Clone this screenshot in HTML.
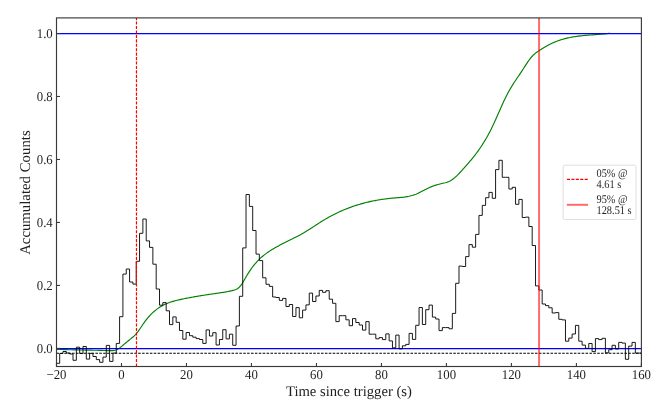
<!DOCTYPE html>
<html><head><meta charset="utf-8"><style>
html,body{margin:0;padding:0;background:#fff;}
svg{display:block;will-change:transform;}
text{font-family:"Liberation Serif",serif;fill:#1e1e1e;text-rendering:geometricPrecision;}
</style></head><body>
<svg width="663" height="407" viewBox="0 0 663 407">
<defs><clipPath id="ax"><rect x="56.5" y="17.9" width="584.9" height="348.6"/></clipPath></defs>
<rect x="0" y="0" width="663" height="407" fill="#fff"/>
<g clip-path="url(#ax)">
<path d="M56.0,349.30 L57.0,349.34 L58.0,349.38 L59.0,349.42 L60.0,349.46 L61.0,349.49 L62.0,349.53 L63.0,349.56 L64.0,349.59 L65.0,349.62 L66.0,349.65 L67.0,349.68 L68.0,349.71 L69.0,349.73 L70.0,349.76 L71.0,349.78 L72.0,349.80 L73.0,349.83 L74.0,349.85 L75.0,349.87 L76.0,349.89 L77.0,349.91 L78.0,349.93 L79.0,349.95 L80.0,349.97 L81.0,349.99 L82.0,350.01 L83.0,350.02 L84.0,350.04 L85.0,350.06 L86.0,350.08 L87.0,350.10 L88.0,350.11 L89.0,350.13 L90.0,350.15 L91.0,350.17 L92.0,350.19 L93.0,350.21 L94.0,350.23 L95.0,350.25 L96.0,350.27 L97.0,350.30 L98.0,350.32 L99.0,350.34 L100.0,350.37 L101.0,350.39 L102.0,350.42 L103.0,350.45 L104.0,350.48 L105.0,350.51 L106.0,350.54 L107.0,350.57 L108.0,350.61 L109.0,350.64 L110.0,350.68 L111.0,350.69 L112.0,350.68 L113.0,350.62 L114.0,350.50 L115.0,350.30 L116.0,350.01 L117.0,349.62 L118.0,349.10 L119.0,348.46 L120.0,347.72 L121.0,346.91 L122.0,346.07 L123.0,345.23 L124.0,344.38 L125.0,343.53 L126.0,342.69 L127.0,341.85 L128.0,341.01 L129.0,340.19 L130.0,339.38 L131.0,338.58 L132.0,337.79 L133.0,336.98 L134.0,336.12 L135.0,335.17 L136.0,334.10 L137.0,332.90 L138.0,331.59 L139.0,330.19 L140.0,328.73 L141.0,327.23 L142.0,325.73 L143.0,324.24 L144.0,322.81 L145.0,321.43 L146.0,320.11 L147.0,318.85 L148.0,317.65 L149.0,316.50 L150.0,315.40 L151.0,314.36 L152.0,313.37 L153.0,312.43 L154.0,311.53 L155.0,310.68 L156.0,309.87 L157.0,309.11 L158.0,308.39 L159.0,307.70 L160.0,307.06 L161.0,306.45 L162.0,305.87 L163.0,305.33 L164.0,304.82 L165.0,304.33 L166.0,303.88 L167.0,303.45 L168.0,303.05 L169.0,302.67 L170.0,302.32 L171.0,301.98 L172.0,301.66 L173.0,301.36 L174.0,301.08 L175.0,300.81 L176.0,300.55 L177.0,300.30 L178.0,300.06 L179.0,299.83 L180.0,299.60 L181.0,299.38 L182.0,299.17 L183.0,298.95 L184.0,298.75 L185.0,298.54 L186.0,298.34 L187.0,298.14 L188.0,297.95 L189.0,297.75 L190.0,297.57 L191.0,297.38 L192.0,297.20 L193.0,297.02 L194.0,296.84 L195.0,296.67 L196.0,296.50 L197.0,296.33 L198.0,296.16 L199.0,295.99 L200.0,295.83 L201.0,295.67 L202.0,295.51 L203.0,295.35 L204.0,295.20 L205.0,295.04 L206.0,294.89 L207.0,294.74 L208.0,294.59 L209.0,294.44 L210.0,294.29 L211.0,294.14 L212.0,294.00 L213.0,293.85 L214.0,293.71 L215.0,293.56 L216.0,293.42 L217.0,293.27 L218.0,293.13 L219.0,292.98 L220.0,292.84 L221.0,292.69 L222.0,292.55 L223.0,292.40 L224.0,292.24 L225.0,292.08 L226.0,291.91 L227.0,291.73 L228.0,291.55 L229.0,291.35 L230.0,291.13 L231.0,290.90 L232.0,290.66 L233.0,290.39 L234.0,290.11 L235.0,289.80 L236.0,289.43 L237.0,288.94 L238.0,288.30 L239.0,287.46 L240.0,286.42 L241.0,285.18 L242.0,283.75 L243.0,282.17 L244.0,280.48 L245.0,278.74 L246.0,277.00 L247.0,275.29 L248.0,273.65 L249.0,272.07 L250.0,270.56 L251.0,269.11 L252.0,267.72 L253.0,266.40 L254.0,265.13 L255.0,263.92 L256.0,262.76 L257.0,261.65 L258.0,260.59 L259.0,259.58 L260.0,258.61 L261.0,257.69 L262.0,256.80 L263.0,255.95 L264.0,255.14 L265.0,254.35 L266.0,253.60 L267.0,252.88 L268.0,252.18 L269.0,251.51 L270.0,250.86 L271.0,250.23 L272.0,249.61 L273.0,249.01 L274.0,248.42 L275.0,247.84 L276.0,247.28 L277.0,246.72 L278.0,246.18 L279.0,245.64 L280.0,245.11 L281.0,244.59 L282.0,244.08 L283.0,243.57 L284.0,243.06 L285.0,242.56 L286.0,242.06 L287.0,241.57 L288.0,241.07 L289.0,240.58 L290.0,240.08 L291.0,239.59 L292.0,239.09 L293.0,238.59 L294.0,238.08 L295.0,237.58 L296.0,237.06 L297.0,236.54 L298.0,236.02 L299.0,235.48 L300.0,234.94 L301.0,234.39 L302.0,233.83 L303.0,233.25 L304.0,232.67 L305.0,232.07 L306.0,231.47 L307.0,230.85 L308.0,230.23 L309.0,229.59 L310.0,228.96 L311.0,228.31 L312.0,227.67 L313.0,227.02 L314.0,226.37 L315.0,225.72 L316.0,225.06 L317.0,224.41 L318.0,223.77 L319.0,223.12 L320.0,222.48 L321.0,221.85 L322.0,221.22 L323.0,220.60 L324.0,219.98 L325.0,219.38 L326.0,218.79 L327.0,218.21 L328.0,217.64 L329.0,217.08 L330.0,216.53 L331.0,215.99 L332.0,215.46 L333.0,214.94 L334.0,214.43 L335.0,213.93 L336.0,213.44 L337.0,212.96 L338.0,212.48 L339.0,212.02 L340.0,211.57 L341.0,211.12 L342.0,210.68 L343.0,210.25 L344.0,209.83 L345.0,209.42 L346.0,209.01 L347.0,208.62 L348.0,208.23 L349.0,207.85 L350.0,207.48 L351.0,207.11 L352.0,206.75 L353.0,206.41 L354.0,206.07 L355.0,205.73 L356.0,205.41 L357.0,205.09 L358.0,204.78 L359.0,204.48 L360.0,204.18 L361.0,203.89 L362.0,203.61 L363.0,203.34 L364.0,203.07 L365.0,202.81 L366.0,202.56 L367.0,202.31 L368.0,202.07 L369.0,201.84 L370.0,201.61 L371.0,201.39 L372.0,201.18 L373.0,200.97 L374.0,200.77 L375.0,200.58 L376.0,200.39 L377.0,200.21 L378.0,200.03 L379.0,199.86 L380.0,199.70 L381.0,199.54 L382.0,199.39 L383.0,199.25 L384.0,199.11 L385.0,198.97 L386.0,198.85 L387.0,198.72 L388.0,198.60 L389.0,198.49 L390.0,198.39 L391.0,198.28 L392.0,198.19 L393.0,198.10 L394.0,198.01 L395.0,197.93 L396.0,197.85 L397.0,197.77 L398.0,197.69 L399.0,197.60 L400.0,197.52 L401.0,197.42 L402.0,197.32 L403.0,197.21 L404.0,197.09 L405.0,196.96 L406.0,196.81 L407.0,196.65 L408.0,196.47 L409.0,196.27 L410.0,196.04 L411.0,195.80 L412.0,195.54 L413.0,195.24 L414.0,194.92 L415.0,194.57 L416.0,194.19 L417.0,193.78 L418.0,193.34 L419.0,192.86 L420.0,192.36 L421.0,191.84 L422.0,191.31 L423.0,190.77 L424.0,190.24 L425.0,189.71 L426.0,189.19 L427.0,188.68 L428.0,188.20 L429.0,187.74 L430.0,187.31 L431.0,186.89 L432.0,186.49 L433.0,186.11 L434.0,185.75 L435.0,185.40 L436.0,185.08 L437.0,184.77 L438.0,184.48 L439.0,184.20 L440.0,183.94 L441.0,183.69 L442.0,183.46 L443.0,183.24 L444.0,183.03 L445.0,182.80 L446.0,182.54 L447.0,182.25 L448.0,181.91 L449.0,181.51 L450.0,181.02 L451.0,180.45 L452.0,179.81 L453.0,179.08 L454.0,178.29 L455.0,177.44 L456.0,176.54 L457.0,175.59 L458.0,174.59 L459.0,173.57 L460.0,172.51 L461.0,171.43 L462.0,170.34 L463.0,169.22 L464.0,168.10 L465.0,166.98 L466.0,165.84 L467.0,164.70 L468.0,163.55 L469.0,162.39 L470.0,161.22 L471.0,160.02 L472.0,158.81 L473.0,157.58 L474.0,156.33 L475.0,155.05 L476.0,153.74 L477.0,152.41 L478.0,151.04 L479.0,149.64 L480.0,148.21 L481.0,146.73 L482.0,145.22 L483.0,143.67 L484.0,142.07 L485.0,140.42 L486.0,138.73 L487.0,136.99 L488.0,135.19 L489.0,133.34 L490.0,131.43 L491.0,129.47 L492.0,127.44 L493.0,125.35 L494.0,123.20 L495.0,121.01 L496.0,118.78 L497.0,116.52 L498.0,114.25 L499.0,111.97 L500.0,109.70 L501.0,107.44 L502.0,105.20 L503.0,103.00 L504.0,100.84 L505.0,98.74 L506.0,96.70 L507.0,94.74 L508.0,92.85 L509.0,91.04 L510.0,89.29 L511.0,87.60 L512.0,85.96 L513.0,84.36 L514.0,82.80 L515.0,81.27 L516.0,79.76 L517.0,78.27 L518.0,76.79 L519.0,75.31 L520.0,73.82 L521.0,72.33 L522.0,70.81 L523.0,69.28 L524.0,67.73 L525.0,66.18 L526.0,64.64 L527.0,63.13 L528.0,61.66 L529.0,60.25 L530.0,58.91 L531.0,57.65 L532.0,56.49 L533.0,55.44 L534.0,54.49 L535.0,53.62 L536.0,52.83 L537.0,52.09 L538.0,51.39 L539.0,50.71 L540.0,50.04 L541.0,49.40 L542.0,48.76 L543.0,48.14 L544.0,47.54 L545.0,46.95 L546.0,46.38 L547.0,45.82 L548.0,45.28 L549.0,44.75 L550.0,44.24 L551.0,43.75 L552.0,43.28 L553.0,42.82 L554.0,42.38 L555.0,41.96 L556.0,41.56 L557.0,41.17 L558.0,40.80 L559.0,40.44 L560.0,40.11 L561.0,39.78 L562.0,39.47 L563.0,39.18 L564.0,38.90 L565.0,38.63 L566.0,38.38 L567.0,38.14 L568.0,37.91 L569.0,37.69 L570.0,37.48 L571.0,37.29 L572.0,37.10 L573.0,36.93 L574.0,36.76 L575.0,36.61 L576.0,36.46 L577.0,36.32 L578.0,36.19 L579.0,36.06 L580.0,35.94 L581.0,35.83 L582.0,35.73 L583.0,35.62 L584.0,35.53 L585.0,35.44 L586.0,35.35 L587.0,35.27 L588.0,35.19 L589.0,35.11 L590.0,35.03 L591.0,34.96 L592.0,34.89 L593.0,34.82 L594.0,34.74 L595.0,34.67 L596.0,34.60 L597.0,34.53 L598.0,34.46 L599.0,34.38 L600.0,34.30 L601.0,34.22 L602.0,34.14 L603.0,34.05 L604.0,33.96 L605.0,33.87 L606.0,33.77 L607.0,33.66 L608.0,33.55 L609.0,33.43 L610.0,33.31" fill="none" stroke="#008000" stroke-width="1.15"/>
<line x1="56.5" y1="33.62" x2="641.4" y2="33.62" stroke="#0000ff" stroke-width="1.2"/>
<line x1="56.5" y1="348.6" x2="641.4" y2="348.6" stroke="#0000ff" stroke-width="1.2"/>
<line x1="56.5" y1="353.25" x2="641.4" y2="353.25" stroke="#000" stroke-width="1.1" stroke-dasharray="2.55 1.34"/>
<path d="M56.37,363.30H59.70V353.50H63.02V351.50H66.35V353.00H69.68V354.00H73.01V360.30H76.33V347.20H79.66V353.50H82.99V346.50H86.32V359.10H89.64V353.40H92.97V356.50H96.30V359.60H99.63V362.30H102.95V357.10H106.28V345.40H109.61V361.40H112.94V353.10H116.26V343.40H119.59V316.70H122.92V274.10H126.25V269.00H129.57V282.00H132.90V284.10H136.23V261.30H139.56V233.30H142.88V219.00H146.21V240.90H149.54V247.40H152.87V264.20H156.19V289.00H159.52V305.20H162.85V302.60H166.18V310.80H169.50V324.60H172.83V316.90H176.16V322.30H179.48V330.50H182.81V339.20H186.14V332.50H189.47V335.70H192.79V337.20H196.12V338.60H199.45V339.50H202.78V343.40H206.10V329.90H209.43V336.00H212.76V332.70H216.09V345.00H219.41V339.50H222.74V329.70H226.07V338.90H229.40V334.20H232.72V345.30H236.05V326.00H239.38V296.30H242.71V247.90H246.03V194.50H249.36V206.40H252.69V230.50H256.02V254.10H259.34V260.60H262.67V277.80H266.00V284.30H269.33V286.40H272.65V297.00H275.98V297.50H279.31V300.40H282.64V298.40H285.96V306.50H289.29V304.50H292.62V316.50H295.95V307.60H299.27V317.80H302.60V310.10H305.93V304.90H309.25V293.10H312.58V301.50H315.91V296.00H319.24V290.40H322.56V292.30H325.89V290.70H329.22V299.20H332.55V303.30H335.87V321.60H339.20V315.70H342.53V315.70H345.86V319.80H349.18V325.70H352.51V318.60H355.84V322.50H359.17V325.00H362.49V330.10H365.82V321.60H369.15V334.20H372.48V334.20H375.80V338.80H379.13V337.60H382.46V339.60H385.79V333.90H389.11V340.90H392.44V347.80H395.77V335.10H399.10V348.90H402.42V345.80H405.75V344.40H409.08V333.40H412.41V339.40H415.73V325.30H419.06V307.50H422.39V324.50H425.71V309.70H429.04V305.10H432.37V317.10H435.70V319.00H439.02V330.60H442.35V327.60H445.68V327.60H449.01V328.80H452.33V313.40H455.66V283.30H458.99V266.10H462.32V266.50H465.64V256.60H468.97V244.60H472.30V247.20H475.63V234.40H478.95V215.40H482.28V205.40H485.61V197.70H488.94V192.40H492.26V198.30H495.59V169.60H498.92V160.30H502.25V177.30H505.57V177.30H508.90V189.00H512.23V187.30H515.56V204.30H518.88V199.40H522.21V217.50H525.54V217.10H528.87V226.50H532.19V245.50H535.52V285.90H538.85V290.00H542.17V304.00H545.50V305.60H548.83V307.80H552.16V313.00H555.48V312.60H558.81V319.30H562.14V319.90H565.47V341.20H568.79V338.10H572.12V334.00H575.45V325.40H578.78V341.20H582.10V345.10H585.43V348.40H588.76V343.50H592.09V351.60H595.41V338.60H598.74V339.60H602.07V338.30H605.40V352.80H608.72V349.70H612.05V345.30H615.38V349.00H618.71V342.40H622.03V343.10H625.36V359.30H628.69V346.10H632.02V342.40H635.34V353.10H638.67V353.10H642.00" fill="none" stroke="#000" stroke-width="0.9" stroke-linejoin="miter"/>
<line x1="136.47" y1="366.5" x2="136.47" y2="17.9" stroke="#ff0000" stroke-width="1.2" stroke-dasharray="3.10 1.34"/>
<line x1="539.07" y1="366.5" x2="539.07" y2="17.9" stroke="#ff0000" stroke-opacity="0.58" stroke-width="2"/>
</g>
<rect x="56.5" y="17.9" width="584.90" height="348.60" fill="none" stroke="#3a3a3a" stroke-width="1.15"/>
<line x1="56.50" y1="366.50" x2="56.50" y2="363.00" stroke="#3a3a3a" stroke-width="1.1"/><text transform="translate(56.50,378.8) scale(1.0,1.05)" text-anchor="middle" font-size="12.8">−20</text><line x1="121.49" y1="366.50" x2="121.49" y2="363.00" stroke="#3a3a3a" stroke-width="1.1"/><text transform="translate(121.49,378.8) scale(1.0,1.05)" text-anchor="middle" font-size="12.8">0</text><line x1="186.48" y1="366.50" x2="186.48" y2="363.00" stroke="#3a3a3a" stroke-width="1.1"/><text transform="translate(186.48,378.8) scale(1.0,1.05)" text-anchor="middle" font-size="12.8">20</text><line x1="251.47" y1="366.50" x2="251.47" y2="363.00" stroke="#3a3a3a" stroke-width="1.1"/><text transform="translate(251.47,378.8) scale(1.0,1.05)" text-anchor="middle" font-size="12.8">40</text><line x1="316.46" y1="366.50" x2="316.46" y2="363.00" stroke="#3a3a3a" stroke-width="1.1"/><text transform="translate(316.46,378.8) scale(1.0,1.05)" text-anchor="middle" font-size="12.8">60</text><line x1="381.44" y1="366.50" x2="381.44" y2="363.00" stroke="#3a3a3a" stroke-width="1.1"/><text transform="translate(381.44,378.8) scale(1.0,1.05)" text-anchor="middle" font-size="12.8">80</text><line x1="446.43" y1="366.50" x2="446.43" y2="363.00" stroke="#3a3a3a" stroke-width="1.1"/><text transform="translate(446.43,378.8) scale(1.0,1.05)" text-anchor="middle" font-size="12.8">100</text><line x1="511.42" y1="366.50" x2="511.42" y2="363.00" stroke="#3a3a3a" stroke-width="1.1"/><text transform="translate(511.42,378.8) scale(1.0,1.05)" text-anchor="middle" font-size="12.8">120</text><line x1="576.41" y1="366.50" x2="576.41" y2="363.00" stroke="#3a3a3a" stroke-width="1.1"/><text transform="translate(576.41,378.8) scale(1.0,1.05)" text-anchor="middle" font-size="12.8">140</text><line x1="641.40" y1="366.50" x2="641.40" y2="363.00" stroke="#3a3a3a" stroke-width="1.1"/><text transform="translate(641.40,378.8) scale(1.0,1.05)" text-anchor="middle" font-size="12.8">160</text>
<line x1="56.50" y1="348.40" x2="60.00" y2="348.40" stroke="#3a3a3a" stroke-width="1.1"/><text transform="translate(52.75,352.80) scale(1.0,1.05)" text-anchor="end" font-size="12.8">0.0</text><line x1="56.50" y1="285.42" x2="60.00" y2="285.42" stroke="#3a3a3a" stroke-width="1.1"/><text transform="translate(52.75,289.82) scale(1.0,1.05)" text-anchor="end" font-size="12.8">0.2</text><line x1="56.50" y1="222.44" x2="60.00" y2="222.44" stroke="#3a3a3a" stroke-width="1.1"/><text transform="translate(52.75,226.84) scale(1.0,1.05)" text-anchor="end" font-size="12.8">0.4</text><line x1="56.50" y1="159.46" x2="60.00" y2="159.46" stroke="#3a3a3a" stroke-width="1.1"/><text transform="translate(52.75,163.86) scale(1.0,1.05)" text-anchor="end" font-size="12.8">0.6</text><line x1="56.50" y1="96.48" x2="60.00" y2="96.48" stroke="#3a3a3a" stroke-width="1.1"/><text transform="translate(52.75,100.88) scale(1.0,1.05)" text-anchor="end" font-size="12.8">0.8</text><line x1="56.50" y1="33.50" x2="60.00" y2="33.50" stroke="#3a3a3a" stroke-width="1.1"/><text transform="translate(52.75,37.90) scale(1.0,1.05)" text-anchor="end" font-size="12.8">1.0</text>
<text x="348.95" y="396.2" text-anchor="middle" font-size="14.65">Time since trigger (s)</text>
<text transform="translate(30.2,192.6) rotate(-90)" x="0" y="0" text-anchor="middle" font-size="14.8">Accumulated Counts</text>
<rect x="563.1" y="165.2" width="72.9" height="54.3" rx="1.5" ry="1.5" fill="#fff" fill-opacity="0.8" stroke="#d4d4d4" stroke-width="0.75"/>
<line x1="566.9" y1="179.4" x2="588.1" y2="179.4" stroke="#ff0000" stroke-width="1.2" stroke-dasharray="3.10 1.34"/>
<line x1="566.9" y1="204.8" x2="588.1" y2="204.8" stroke="#ff0000" stroke-opacity="0.58" stroke-width="2"/>
<text transform="translate(596.5,176.6) scale(0.97,1.1)" font-size="10.7">05% @</text>
<text transform="translate(596.5,188.0) scale(0.97,1.1)" font-size="10.7">4.61 s</text>
<text transform="translate(596.5,202.6) scale(0.97,1.1)" font-size="10.7">95% @</text>
<text transform="translate(596.5,213.9) scale(0.97,1.1)" font-size="10.7">128.51 s</text>
</svg>
</body></html>
